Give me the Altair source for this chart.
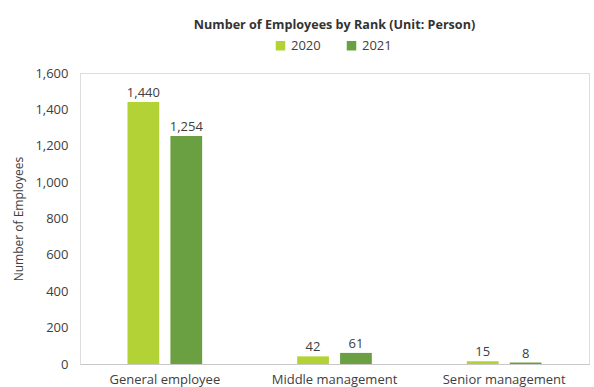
import altair as alt
import pandas as pd

categories = ["General employee", "Middle management", "Senior management"]
years = ["2020", "2021"]
values_2020 = [1440, 42, 15]
values_2021 = [1254, 61, 8]
y_ticks = [0, 200, 400, 600, 800, 1000, 1200, 1400, 1600]

rows = []
for c, v in zip(categories, values_2020):
    rows.append({"Rank": c, "Year": "2020", "Value": v})
for c, v in zip(categories, values_2021):
    rows.append({"Rank": c, "Year": "2021", "Value": v})
df = pd.DataFrame(rows)

FONT = "Open Sans"
colors = ["#b2d235", "#6aa042"]

base = alt.Chart(df).encode(
    x=alt.X("Rank:N", sort=categories,
            scale=alt.Scale(paddingInner=0.56, paddingOuter=0.28),
            axis=alt.Axis(title=None, labelAngle=0, ticks=False, domainColor="#c8c8c8",
                          labelFontSize=13, labelColor="#404040", labelFont=FONT,
                          labelPadding=9)),
    xOffset=alt.XOffset("Year:N", sort=years,
                        scale=alt.Scale(paddingInner=0.26, paddingOuter=0)),
    y=alt.Y("Value:Q", scale=alt.Scale(domain=[0, 1600]),
            axis=alt.Axis(title="Number of Employees", values=y_ticks, format=",.0f",
                          labelOverlap=False,
                          grid=False, domain=False, ticks=False,
                          labelFontSize=13, labelColor="#404040", labelFont=FONT,
                          labelPadding=12, titleFontSize=12, titleFont=FONT,
                          titleFontWeight="normal", titleColor="#404040", titlePadding=9)),
)

bars = base.mark_bar().encode(
    color=alt.Color("Year:N", sort=years,
                    scale=alt.Scale(domain=years, range=colors),
                    legend=alt.Legend(title=None, orient="none", direction="horizontal",
                                      legendX=194, legendY=-34, symbolType="square",
                                      symbolSize=90, labelFontSize=13, labelFont=FONT,
                                      labelColor="#404040", columnPadding=24,
                                      symbolStrokeWidth=0)),
)

labels = base.mark_text(dy=-9, fontSize=13, font=FONT, color="#404040").encode(
    text=alt.Text("Value:Q", format=","),
)

chart = (bars + labels).properties(
    width=509, height=291,
    autosize=alt.AutoSizeParams(type="none"),
    padding={"left": 80, "top": 73, "right": 5, "bottom": 23},
    title=alt.Title("Number of Employees by Rank (Unit: Person)", fontSize=12.6,
                    font=FONT, fontWeight="bold", color="#333333", offset=7),
).configure_view(stroke=None).configure(background="white")

chart.save("out.html", embed_options={"renderer": "svg", "actions": False})
